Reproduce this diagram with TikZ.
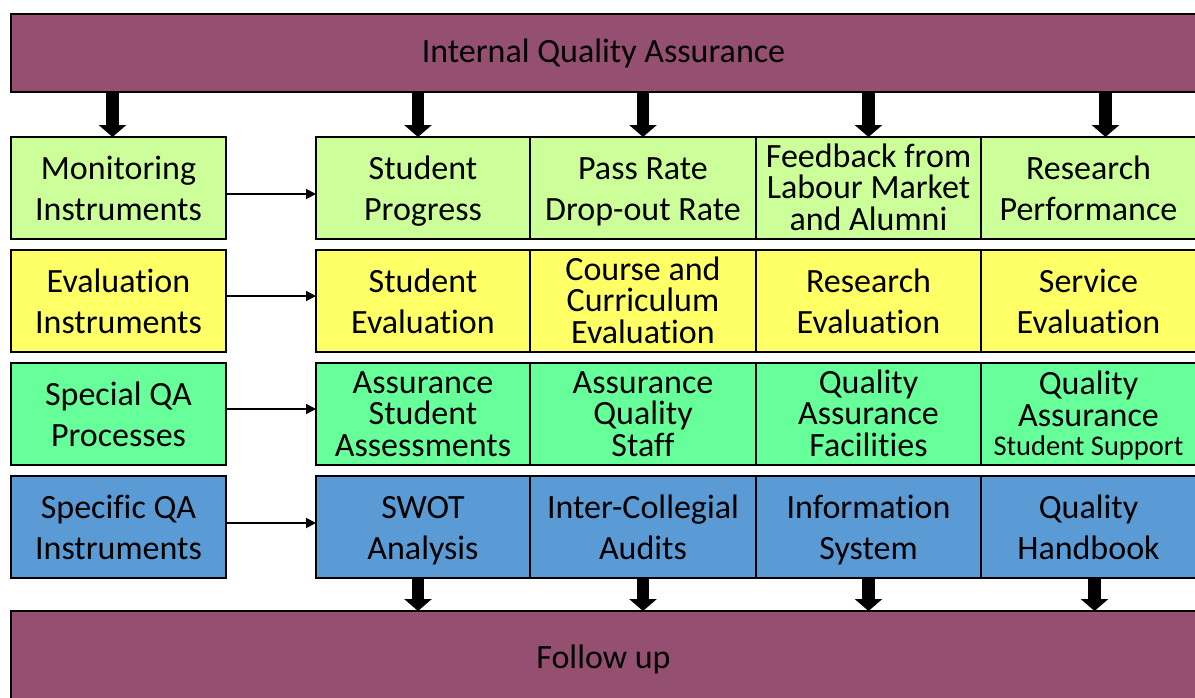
\documentclass[tikz,border=0pt]{standalone}
\usepackage{fontspec}
\setmainfont{Carlito}[Ligatures={NoCommon,NoContextual}]
\usetikzlibrary{arrows.meta}
\definecolor{qapurple}{RGB}{148,79,113}
\definecolor{qalgreen}{RGB}{204,255,153}
\definecolor{qayellow}{RGB}{255,255,102}
\definecolor{qamint}{RGB}{102,255,153}
\definecolor{qablue}{RGB}{91,155,213}
\tikzset{
  cell/.style={draw=black, line width=1.5pt, inner sep=0pt, outer sep=0pt, align=center,
    minimum height=102pt, font=\fontsize{34}{40.5}\selectfont, text=black,
    text height=64pt, text depth=0pt},
  three/.style={font=\fontsize{34}{31.5}\selectfont, text height=84.5pt},
  bar/.style={draw=black, line width=1.5pt, fill=qapurple, inner sep=0pt, outer sep=0pt,
    font=\fontsize{34}{40}\selectfont, minimum width=1185pt},
  bigarrow/.style={line width=12.5pt, -{Triangle[width=27pt,length=12pt]}},
  thinarrow/.style={line width=1.8pt, -{Triangle[width=10pt,length=10pt]}},
}
\begin{document}
\begin{tikzpicture}[x=1pt,y=-1pt]
\useasboundingbox (0,0) rectangle (1195,697);
\clip (0,0) rectangle (1195,697);
% bars
\node[bar, minimum height=78pt] (iqa) at (603.5,53) {Internal Quality Assurance};
\node[bar, minimum height=96pt] (fu) at (603.5,659) {Follow up};
% left column
\node[cell, fill=qalgreen, minimum width=215pt] (mon) at (118.5,188) {Monitoring\\Instruments};
\node[cell, fill=qayellow, minimum width=215pt] (eva) at (118.5,301) {Evaluation\\Instruments};
\node[cell, fill=qamint, minimum width=215pt] (spq) at (118.5,414) {Special QA\\Processes};
\node[cell, fill=qablue, minimum width=215pt] (sqi) at (118.5,527) {Specific QA\\Instruments};
% row 1
\node[cell, fill=qalgreen, minimum width=214pt] (r1a) at (423,188) {Student\\Progress};
\node[cell, fill=qalgreen, minimum width=226pt] (r1b) at (643,188) {Pass Rate\\Drop-out Rate};
\node[cell, three, fill=qalgreen, minimum width=225pt] (r1c) at (868.5,188) {Feedback from\\Labour Market\\and Alumni};
\node[cell, fill=qalgreen, minimum width=215pt] (r1d) at (1088.5,188) {Research\\Performance};
% row 2
\node[cell, fill=qayellow, minimum width=214pt] (r2a) at (423,301) {Student\\Evaluation};
\node[cell, three, fill=qayellow, minimum width=226pt] (r2b) at (643,301) {Course and\\Curriculum\\Evaluation};
\node[cell, fill=qayellow, minimum width=225pt] (r2c) at (868.5,301) {Research\\Evaluation};
\node[cell, fill=qayellow, minimum width=215pt] (r2d) at (1088.5,301) {Service\\Evaluation};
% row 3
\node[cell, three, fill=qamint, minimum width=214pt] (r3a) at (423,414) {Assurance\\Student\\Assessments};
\node[cell, three, fill=qamint, minimum width=226pt] (r3b) at (643,414) {Assurance\\Quality\\Staff};
\node[cell, three, fill=qamint, minimum width=225pt] (r3c) at (868.5,414) {Quality\\Assurance\\Facilities};
\node[cell, three, fill=qamint, minimum width=215pt, text height=82pt] (r3d) at (1088.5,414) {Quality\\Assurance\\[-2.5pt]{\fontsize{28.5}{32}\selectfont Student Support}};
% row 4
\node[cell, fill=qablue, minimum width=214pt] (r4a) at (423,527) {SWOT\\Analysis};
\node[cell, fill=qablue, minimum width=226pt] (r4b) at (643,527) {Inter-Collegial\\Audits};
\node[cell, fill=qablue, minimum width=225pt] (r4c) at (868.5,527) {Information\\System};
\node[cell, fill=qablue, minimum width=215pt] (r4d) at (1088.5,527) {Quality\\Handbook};
% top arrows
\draw[bigarrow] ([xshift=-6pt]mon.north |- iqa.south) -- ([xshift=-6pt]mon.north);
\draw[bigarrow] ([xshift=-5pt]r1a.north |- iqa.south) -- ([xshift=-5pt]r1a.north);
\draw[bigarrow] (r1b.north |- iqa.south) -- (r1b.north);
\draw[bigarrow] (r1c.north |- iqa.south) -- (r1c.north);
\draw[bigarrow] ([xshift=17pt]r1d.north |- iqa.south) -- ([xshift=17pt]r1d.north);
% bottom arrows
\draw[bigarrow] ([xshift=-5pt]r4a.south) -- ([xshift=-5pt]r4a.south |- fu.north);
\draw[bigarrow] (r4b.south) -- (r4b.south |- fu.north);
\draw[bigarrow] (r4c.south) -- (r4c.south |- fu.north);
\draw[bigarrow] ([xshift=6pt]r4d.south) -- ([xshift=6pt]r4d.south |- fu.north);
% horizontal arrows
\draw[thinarrow] ([yshift=-6pt]mon.east) -- ([yshift=-6pt]r1a.west);
\draw[thinarrow] ([yshift=5pt]eva.east) -- ([yshift=5pt]r2a.west);
\draw[thinarrow] ([yshift=5pt]spq.east) -- ([yshift=5pt]r3a.west);
\draw[thinarrow] ([yshift=4pt]sqi.east) -- ([yshift=4pt]r4a.west);
\end{tikzpicture}
\end{document}
